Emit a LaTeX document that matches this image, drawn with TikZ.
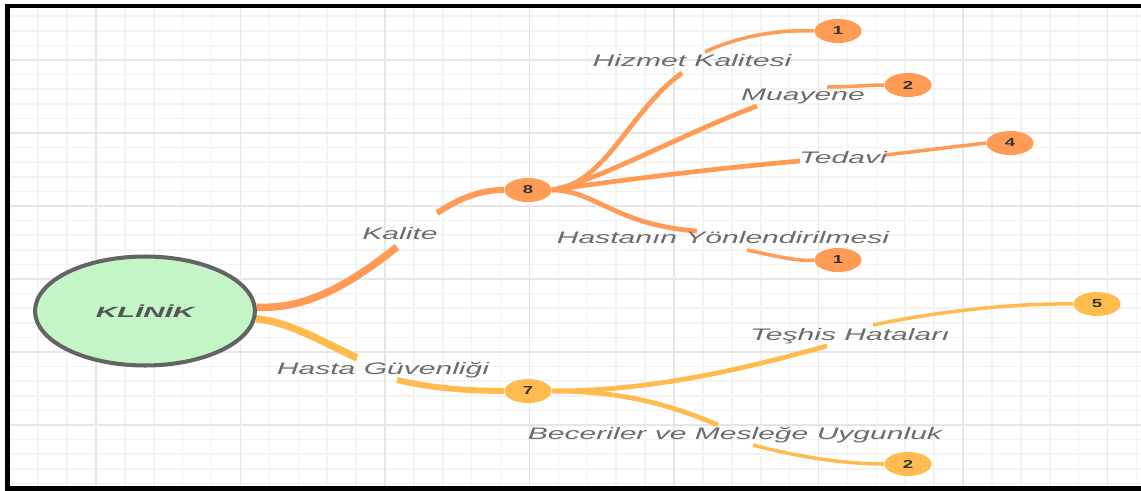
\documentclass[tikz,border=0pt]{standalone}
\usepackage{fontspec}
\setmainfont{Liberation Sans}
\usepackage{tikz}
\usetikzlibrary{calc,shapes.geometric}
\definecolor{kaliteorange}{RGB}{255,155,85}
\definecolor{guvenyellow}{RGB}{255,187,77}
\definecolor{klinikgreen}{RGB}{196,245,198}
\definecolor{rimgray}{RGB}{100,100,100}
\definecolor{labelgray}{RGB}{108,108,108}
\definecolor{gridminor}{RGB}{243,243,243}
\definecolor{gridmajor}{RGB}{230,230,230}
\newcommand{\widetext}[2][1.8]{\scalebox{#1}[1]{#2}}
\pgfdeclarelayer{gridlayer}
\pgfdeclarelayer{branchlayer}
\pgfsetlayers{gridlayer,branchlayer,main}
\tikzset{
  rootnode/.style={ellipse,draw=rimgray,fill=klinikgreen,line width=2.3pt,minimum width=4.4cm,minimum height=2.18cm,inner sep=0pt,text=rimgray!85!black,font=\fontsize{8.4}{10}\selectfont\bfseries\itshape},
  countnode/.style={ellipse,inner sep=0pt,minimum width=0.94cm,minimum height=0.48cm,text=black!80,font=\fontsize{6.6}{8}\selectfont\bfseries},
  branchlabel/.style={inner sep=0pt,text=labelgray,font=\fontsize{9.5}{11}\selectfont\itshape},
  minorline/.style={line width=0.9pt,draw=gridminor},
  majorline/.style={line width=1.1pt,draw=gridmajor},
  mainlow/.style={line width=4.2pt},
  mainhigh/.style={line width=3.4pt},
  sublow/.style={line width=2.7pt},
  subhigh/.style={line width=2pt},
  framestroke/.style={line width=2.8pt,draw=black}
}
\begin{document}
\begin{tikzpicture}[x=0.02cm,y=-0.02cm]
  \useasboundingbox (0,0) rectangle (1141,490);
  \clip (0,0) rectangle (1141,490);
  \begin{pgfonlayer}{gridlayer}
    \begin{scope}
      \clip (7.5,6) rectangle (1141,488.5);
      \foreach \k in {-3,...,36}
        \draw[minorline] ({96+28.9*\k},6) -- ({96+28.9*\k},489);
      \foreach \k in {-4,...,29}
        \draw[minorline] (7.5,{60+14.6*\k}) -- (1141,{60+14.6*\k});
      \foreach \k in {0,...,7}
        \draw[majorline] ({96+144.5*\k},6) -- ({96+144.5*\k},489);
      \foreach \k in {0,...,5}
        \draw[majorline] (7.5,{60+73*\k}) -- (1141,{60+73*\k});
    \end{scope}
  \end{pgfonlayer}

  \node[rootnode] (klinik) at (145,311) {\widetext[2]{KLİNİK}};

  \node[countnode,fill=kaliteorange] (n8) at (528,190) {\widetext[1.6]{8}};
  \node[countnode,fill=guvenyellow] (n7) at (528,391) {\widetext[1.6]{7}};
  \node[countnode,fill=kaliteorange] (c1) at (838,31) {\widetext[1.6]{1}};
  \node[countnode,fill=kaliteorange] (c2) at (908,85) {\widetext[1.6]{2}};
  \node[countnode,fill=kaliteorange] (c4) at (1010,143) {\widetext[1.6]{4}};
  \node[countnode,fill=kaliteorange] (c1b) at (838,260) {\widetext[1.6]{1}};
  \node[countnode,fill=guvenyellow] (c5) at (1097,304) {\widetext[1.6]{5}};
  \node[countnode,fill=guvenyellow] (c2b) at (908,464) {\widetext[1.6]{2}};

  \node[branchlabel] (kalite) at (400,233.5) {\widetext{Kalite}};
  \node[branchlabel] (hasta) at (383,370) {\widetext{Hasta Güvenliği}};
  \node[branchlabel] (hizmet) at (692,61) {\widetext{Hizmet Kalitesi}};
  \node[branchlabel] (muayene) at (803,96) {\widetext{Muayene}};
  \node[branchlabel] (tedavi) at (843,158) {\widetext{Tedavi}};
  \node[branchlabel] (yonlen) at (723,238) {\widetext{Hastanın Yönlendirilmesi}};
  \node[branchlabel] (teshis) at (850,336) {\widetext{Teşhis Hataları}};
  \node[branchlabel] (beceri) at (735,435.5) {\widetext{Beceriler ve Mesleğe Uygunluk}};

  \begin{pgfonlayer}{branchlayer}
    \draw[mainlow,kaliteorange] (klinik.2) .. controls (310,310) and (355,280) .. ($(kalite)+(-3,13.5)$);
    \draw[mainhigh,kaliteorange] ($(kalite)+(37,-20.5)$) .. controls (460,198) and (480,190) .. (n8.west);
    \draw[mainlow,guvenyellow] (klinik.-4) .. controls (290,322) and (325,343) .. ($(hasta)+(-26,-12)$);
    \draw[mainhigh,guvenyellow] ($(hasta)+(14,10)$) .. controls (430,388) and (470,391) .. (n7.west);

    \draw[sublow,kaliteorange] (n8.east) .. controls (605,185) and (630,110) .. ($(hizmet)+(-10,12)$);
    \draw[subhigh,kaliteorange] ($(hizmet)+(13,-9)$) .. controls (730,40) and (770,29) .. (c1.west);
    \draw[sublow,kaliteorange] (n8.east) .. controls (600,180) and (680,135) .. ($(muayene)+(-46,10)$);
    \draw[subhigh,kaliteorange] ($(muayene)+(24,-9)$) .. controls (850,87) and (870,85) .. (c2.west);
    \draw[sublow,kaliteorange] (n8.east) .. controls (620,180) and (720,168) .. ($(tedavi)+(-43,3)$);
    \draw[subhigh,kaliteorange] ($(tedavi)+(42,-3)$) .. controls (920,151) and (960,146) .. (c4.west);
    \draw[sublow,kaliteorange] (n8.east) .. controls (595,190) and (615,225) .. ($(yonlen)+(-26,-7)$);
    \draw[subhigh,kaliteorange] ($(yonlen)+(24,12)$) .. controls (775,256) and (800,262) .. (c1b.west);

    \draw[sublow,guvenyellow] (n7.east) .. controls (650,391) and (740,370) .. ($(teshis)+(-23,10)$);
    \draw[subhigh,guvenyellow] ($(teshis)+(23,-11)$) .. controls (920,315) and (1000,303) .. (c5.west);
    \draw[sublow,guvenyellow] (n7.east) .. controls (610,391) and (660,400) .. ($(beceri)+(-17,-10.5)$);
    \draw[subhigh,guvenyellow] ($(beceri)+(18,9.5)$) .. controls (790,455) and (840,464) .. (c2b.west);
  \end{pgfonlayer}

  \draw[framestroke] (1150,6) -- (7.5,6) -- (7.5,488.5) -- (1150,488.5);
\end{tikzpicture}
\end{document}
